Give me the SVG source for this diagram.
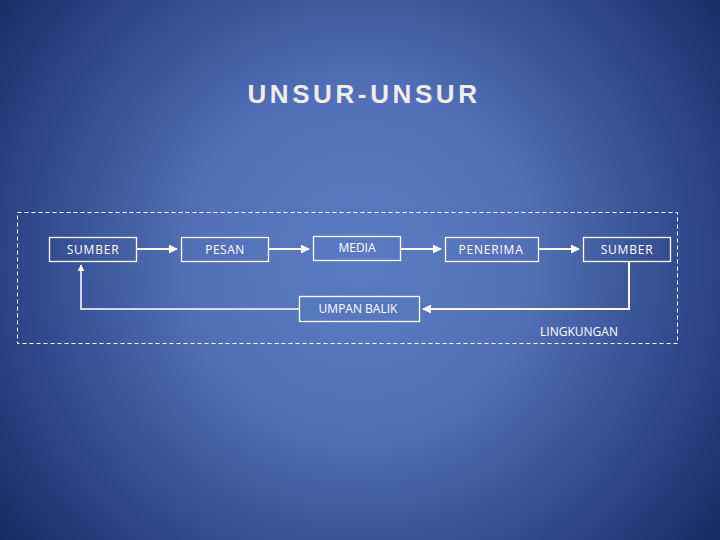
<svg xmlns="http://www.w3.org/2000/svg" width="720" height="540" viewBox="0 0 720 540">
<defs>
<radialGradient id="bg" cx="360" cy="260" r="470" gradientUnits="userSpaceOnUse">
<stop offset="0" stop-color="#5a7bc4"/>
<stop offset="0.35" stop-color="#5271b8"/>
<stop offset="0.7" stop-color="#2f4a8c"/>
<stop offset="1" stop-color="#15275f"/>
</radialGradient>
<marker id="ah" viewBox="0 0 10 10" refX="9" refY="5" markerWidth="4.5" markerHeight="4.5" markerUnits="strokeWidth" orient="auto">
<path d="M0,0 L10,5 L0,10 z" fill="#ffffff"/>
</marker>
</defs>
<style>
.box{fill:none;stroke:#ffffff;stroke-width:1.3}
.lbl{font-family:"Open Sans","Liberation Sans",sans-serif;font-size:12px;fill:#ffffff;text-anchor:middle}
.con{fill:none;stroke:#ffffff;stroke-width:2}
.fb{fill:none;stroke:#ffffff;stroke-width:1.5}
</style>
<rect x="0" y="0" width="720" height="540" fill="url(#bg)"/>
<text x="364" y="103" font-family="'Liberation Sans',Arial,sans-serif" font-weight="bold" font-size="26" letter-spacing="3.6" fill="#eeeeee" text-anchor="middle">UNSUR-UNSUR</text>
<g id="lingkungan">
<rect x="17.5" y="212.5" width="660" height="131" fill="none" stroke="#ffffff" stroke-width="1" stroke-dasharray="4,3"/>
<text class="lbl" x="579" y="336">LINGKUNGAN</text>
</g>
<g id="connectors">
<path class="con" d="M136,249 H177" marker-end="url(#ah)"/>
<path class="con" d="M268,249 H309" marker-end="url(#ah)"/>
<path class="con" d="M400,249 H441" marker-end="url(#ah)"/>
<path class="con" d="M538,249 H579" marker-end="url(#ah)"/>
<path class="con" d="M629,261 V309 H423" marker-end="url(#ah)"/>
<path class="fb" d="M299,309 H81 V265" marker-end="url(#ah)"/>
</g>
<g id="sumber1"><rect class="box" x="49.5" y="237.5" width="87" height="24"/><text class="lbl" x="93" y="254" letter-spacing="0.8">SUMBER</text></g>
<g id="pesan"><rect class="box" x="181.5" y="237.5" width="87" height="24"/><text class="lbl" x="225" y="254" letter-spacing="0.5">PESAN</text></g>
<g id="media"><rect class="box" x="313.5" y="236.5" width="87" height="24"/><text class="lbl" x="357" y="252">MEDIA</text></g>
<g id="penerima"><rect class="box" x="445.5" y="237.5" width="93" height="24"/><text class="lbl" x="491" y="254" letter-spacing="0.8">PENERIMA</text></g>
<g id="sumber2"><rect class="box" x="583.5" y="237.5" width="87" height="24"/><text class="lbl" x="627" y="254" letter-spacing="0.8">SUMBER</text></g>
<g id="umpanbalik"><rect class="box" x="299.5" y="296.5" width="120" height="25"/><text class="lbl" x="358" y="313">UMPAN BALIK</text></g>
</svg>
